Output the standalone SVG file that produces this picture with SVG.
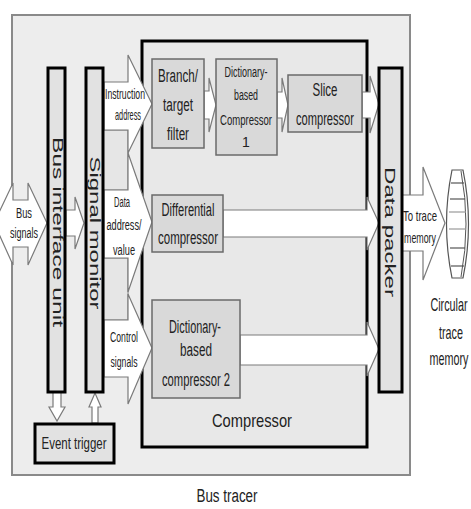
<svg xmlns="http://www.w3.org/2000/svg" width="471" height="509" viewBox="0 0 471 509">
<defs>
<style>
.t{font-family:"Liberation Sans",Arial,sans-serif;fill:#222;text-anchor:middle}
.arr{fill:#fff;stroke:#7a7a7a;stroke-width:1.2;stroke-linejoin:miter}
.bar{fill:#e2e2e2;stroke:#000;stroke-width:3}
.box{fill:#d9d9d9;stroke:#6a6a6a;stroke-width:1.5}
.gap{fill:#e6e6e6;stroke:#8a8a8a;stroke-width:1}
</style>
</defs>
<rect width="471" height="509" fill="#fff"/>
<g id="bus-tracer">
<rect x="12" y="15" width="398" height="460" fill="#ededed" stroke="#8a8a8a" stroke-width="2"/>
<text class="t" x="227" y="502" font-size="18" textLength="61" lengthAdjust="spacingAndGlyphs">Bus tracer</text>
</g>
<g id="compressor">
<rect x="142" y="41" width="225" height="406" fill="#e8e8e8" stroke="#000" stroke-width="3"/>
<text class="t" x="252" y="427" font-size="19" textLength="80" lengthAdjust="spacingAndGlyphs">Compressor</text>
</g>
<g id="connectors">
<polygon class="arr" points="-6,223 13,183 13,200 28,200 28,183 47,223 28,265 28,247 13,247 13,265"/>
<polygon class="arr" points="66,210 75,210 75,197 84,223 75,249 75,236 66,236"/>
<rect class="gap" x="103" y="130" width="25" height="60"/>
<rect class="gap" x="103" y="258" width="25" height="62"/>
<polygon class="arr" points="104,82 128,82 128,55 152,104 128,153 128,130 104,130"/>
<polygon class="arr" points="104,190 128,190 128,153 152,222 128,292 128,258 104,258"/>
<polygon class="arr" points="104,320 128,320 128,294 152,348 128,404 128,377 104,377"/>
<polygon class="arr" points="204,91 209,91 209,78 216,105 209,132 209,119 204,119"/>
<polygon class="arr" points="277,92 282,92 282,78 288,105 282,132 282,118 277,118"/>
<polygon class="arr" points="362,92 370,92 370,76 379,104 370,133 370,118 362,118"/>
<polygon class="arr" points="223,210 367,210 367,197 379,223 367,250 367,237 223,237"/>
<polygon class="arr" points="240,335 367,335 367,322 379,349 367,376 367,365 240,365"/>
<polygon class="arr" points="402,195 423,195 423,167 445,223 423,280 423,251 402,251"/>
<polygon class="arr" points="53,392 61,392 61,407 65,407 57,421 49,407 53,407"/>
<polygon class="arr" stroke="#333" points="92,423 98,423 98,407 101,407 95,393 89,407 92,407"/>
<text class="t" x="24" y="218" font-size="14" textLength="16" lengthAdjust="spacingAndGlyphs">Bus</text>
<text class="t" x="24" y="238" font-size="14" textLength="28" lengthAdjust="spacingAndGlyphs">signals</text>
<text class="t" x="125" y="99" font-size="15" textLength="40" lengthAdjust="spacingAndGlyphs">Instruction</text>
<text class="t" x="128" y="120" font-size="15" textLength="26" lengthAdjust="spacingAndGlyphs">address</text>
<text class="t" x="122" y="207" font-size="14" textLength="16" lengthAdjust="spacingAndGlyphs">Data</text>
<text class="t" x="124" y="230" font-size="14" textLength="35" lengthAdjust="spacingAndGlyphs">address/</text>
<text class="t" x="124" y="255" font-size="14" textLength="22" lengthAdjust="spacingAndGlyphs">value</text>
<text class="t" x="124" y="342" font-size="14" textLength="28" lengthAdjust="spacingAndGlyphs">Control</text>
<text class="t" x="124" y="367" font-size="14" textLength="27" lengthAdjust="spacingAndGlyphs">signals</text>
<text class="t" x="420" y="221" font-size="15" textLength="34" lengthAdjust="spacingAndGlyphs">To trace</text>
<text class="t" x="420" y="243" font-size="15" textLength="32" lengthAdjust="spacingAndGlyphs">memory</text>
</g>
<g id="bus-interface-unit">
<rect class="bar" x="48" y="68" width="17" height="324"/>
<text class="t" font-size="14" textLength="190" lengthAdjust="spacingAndGlyphs" transform="translate(53,232) rotate(90)">Bus interface unit</text>
</g>
<g id="signal-monitor">
<rect class="bar" x="86" y="68" width="17" height="324"/>
<text class="t" font-size="14" textLength="153" lengthAdjust="spacingAndGlyphs" transform="translate(90,233) rotate(90)">Signal monitor</text>
</g>
<g id="event-trigger">
<rect class="bar" x="35" y="424" width="79" height="39"/>
<text class="t" x="74" y="449" font-size="16" textLength="65" lengthAdjust="spacingAndGlyphs">Event trigger</text>
</g>
<g id="branch-target-filter">
<rect class="box" x="152" y="59" width="52" height="89"/>
<text class="t" x="178" y="82" font-size="18" textLength="40" lengthAdjust="spacingAndGlyphs">Branch/</text>
<text class="t" x="178" y="111" font-size="18" textLength="30" lengthAdjust="spacingAndGlyphs">target</text>
<text class="t" x="178" y="140" font-size="18" textLength="22" lengthAdjust="spacingAndGlyphs">filter</text>
</g>
<g id="dictionary-compressor-1">
<rect class="box" x="216" y="59" width="61" height="96"/>
<text class="t" x="246" y="77" font-size="14" textLength="43" lengthAdjust="spacingAndGlyphs">Dictionary-</text>
<text class="t" x="246" y="100" font-size="14" textLength="24" lengthAdjust="spacingAndGlyphs">based</text>
<text class="t" x="246" y="125" font-size="14" textLength="52" lengthAdjust="spacingAndGlyphs">Compressor</text>
<text class="t" x="246" y="147" font-size="14">1</text>
</g>
<g id="slice-compressor">
<rect class="box" x="288" y="75" width="74" height="57"/>
<text class="t" x="325" y="96" font-size="18" textLength="25" lengthAdjust="spacingAndGlyphs">Slice</text>
<text class="t" x="325" y="125" font-size="18" textLength="58" lengthAdjust="spacingAndGlyphs">compressor</text>
</g>
<g id="differential-compressor">
<rect class="box" x="152" y="195" width="71" height="57"/>
<text class="t" x="188" y="216" font-size="18" textLength="53" lengthAdjust="spacingAndGlyphs">Differential</text>
<text class="t" x="188" y="244" font-size="18" textLength="60" lengthAdjust="spacingAndGlyphs">compressor</text>
</g>
<g id="dictionary-compressor-2">
<rect class="box" x="152" y="300" width="88" height="98"/>
<text class="t" x="195" y="333" font-size="18" textLength="52" lengthAdjust="spacingAndGlyphs">Dictionary-</text>
<text class="t" x="196" y="356" font-size="18" textLength="32" lengthAdjust="spacingAndGlyphs">based</text>
<text class="t" x="196" y="386" font-size="18" textLength="68" lengthAdjust="spacingAndGlyphs">compressor 2</text>
</g>
<g id="data-packer">
<rect class="bar" x="379" y="68" width="23" height="324"/>
<text class="t" font-size="14" textLength="130" lengthAdjust="spacingAndGlyphs" transform="translate(385,232) rotate(90)">Data packer</text>
</g>
<g id="circular-trace-memory">
<path d="M452,170 L463,170 Q474,224 463,278 L452,278 Q441,224 452,170 Z" fill="#fff" stroke="#555" stroke-width="1.2"/>
<path d="M461,171 Q471,224 461,277" fill="none" stroke="#555" stroke-width="1"/>
<g stroke="#555" stroke-width="1.2">
<line x1="451" y1="183" x2="464" y2="183"/>
<line x1="450" y1="199" x2="465" y2="199"/>
<line x1="449" y1="212" x2="466" y2="212" stroke="#999"/>
<line x1="449" y1="229" x2="466" y2="229" stroke="#999"/>
<line x1="450" y1="248" x2="465" y2="248"/>
<line x1="451" y1="266" x2="464" y2="266"/>
</g>
<text class="t" font-size="18" transform="translate(449,311) scale(0.6,1)">Circular</text>
<text class="t" font-size="18" transform="translate(451,339) scale(0.6,1)">trace</text>
<text class="t" font-size="18" transform="translate(449,365) scale(0.6,1)">memory</text>
</g>
</svg>
